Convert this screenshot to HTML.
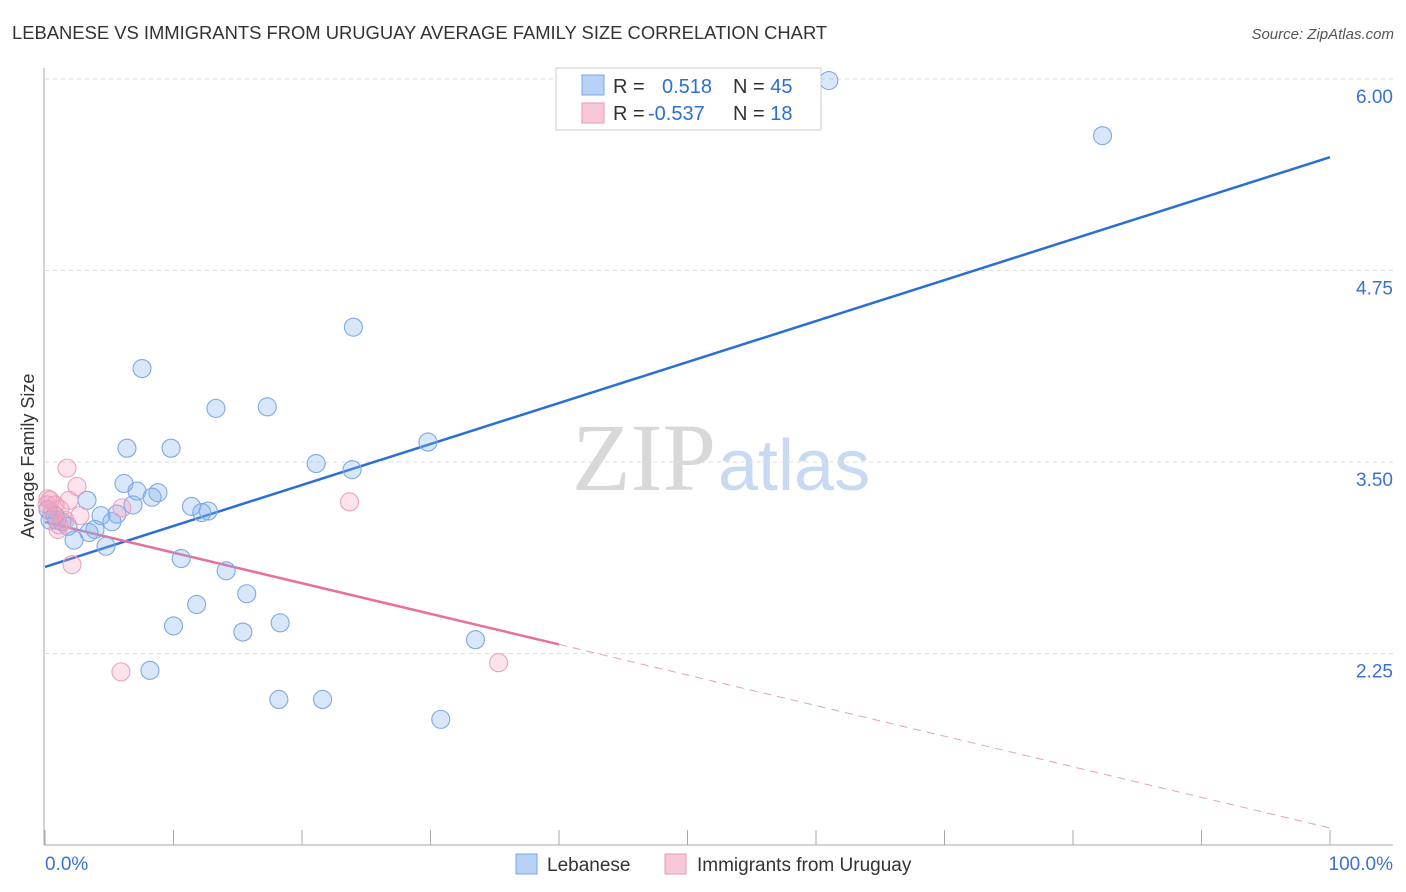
<!DOCTYPE html>
<html><head><meta charset="utf-8"><style>
body{margin:0;background:#fff;font-family:"Liberation Sans",sans-serif;}
#wrap{position:relative;width:1406px;height:892px;overflow:hidden}
</style></head><body>
<div id="wrap">
<svg id="svg" width="1406" height="892" xmlns="http://www.w3.org/2000/svg">
<text x="12" y="39" font-size="18.4" fill="#333">LEBANESE VS IMMIGRANTS FROM URUGUAY AVERAGE FAMILY SIZE CORRELATION CHART</text>
<text x="1394" y="39" font-size="15" fill="#555" font-style="italic" text-anchor="end">Source: ZipAtlas.com</text>
<text x="716" y="490" font-size="96" fill="#d8d8d8" font-family="Liberation Serif,serif" text-anchor="end">ZIP</text>
<text x="718" y="490" font-size="72" fill="#c8daf2" text-anchor="start">atlas</text>
<g id="grid"></g><g id="axes"></g><g id="lines"></g><g id="pts"></g>
<text transform="translate(34,456) rotate(-90)" font-size="18" fill="#333" text-anchor="middle">Average Family Size</text>
<g>
<rect x="556" y="68" width="265" height="62" fill="#fff" stroke="#ccc"/>
<rect x="582" y="75" width="22" height="20" fill="#b7d2f5" stroke="#7aa5e3"/>
<rect x="582" y="103" width="22" height="20" fill="#f9c8d6" stroke="#e99ab4"/>
<text x="613" y="93" font-size="20" fill="#333">R = <tspan fill="#2b6fd6" x="662">0.518</tspan><tspan fill="#333" x="733">N = </tspan><tspan fill="#2b6fd6">45</tspan></text>
<text x="613" y="120" font-size="20" fill="#333">R = <tspan fill="#2b6fd6" x="648">-0.537</tspan><tspan fill="#333" x="733">N = </tspan><tspan fill="#2b6fd6"> 18</tspan></text>
</g>
<g>
<rect x="516" y="854" width="21" height="20" fill="#b7d2f5" stroke="#7aa5e3"/>
<text x="547" y="871" font-size="19" fill="#333">Lebanese</text>
<rect x="665" y="854" width="21" height="20" fill="#f9c8d6" stroke="#e99ab4"/>
<text x="697" y="871" font-size="19" fill="#333">Immigrants from Uruguay</text>
</g>
</svg></div>
<script>
const yTicks=[6.00,4.75,3.50,2.25];
const xTickLabels=["0.0%","100.0%"];
const blueX=[61.0,82.3,24.0,7.55,13.3,17.3,6.38,9.81,29.8,21.1,23.9,6.15,7.16,8.79,8.33,6.85,11.4,12.7,12.2,3.27,5.60,4.36,5.21,0.93,1.79,3.89,3.42,2.26,4.75,10.6,14.1,15.7,11.8,10.0,15.4,18.3,33.5,8.17,18.2,21.6,30.8,0.39,1.32,0.78,0.23];
const blueY=[5.99,5.63,4.38,4.11,3.85,3.86,3.59,3.59,3.63,3.49,3.45,3.36,3.31,3.30,3.27,3.22,3.21,3.18,3.17,3.25,3.16,3.15,3.11,3.12,3.08,3.06,3.04,2.99,2.95,2.87,2.79,2.64,2.57,2.43,2.39,2.45,2.34,2.14,1.95,1.95,1.82,3.12,3.11,3.15,3.19];
const pinkX=[1.71,2.49,1.87,0.39,0.78,1.17,0.16,0.54,2.72,5.99,1.09,1.56,2.10,5.91,23.7,35.3,0.23,1.01];
const pinkY=[3.46,3.34,3.25,3.25,3.22,3.19,3.22,3.17,3.15,3.20,3.09,3.12,2.83,2.13,3.24,2.19,3.26,3.06];
const blueTrend=[2.815,5.49];
const pinkTrend=[3.108,1.111];
const pinkSolidEnd=40;
const NS="http://www.w3.org/2000/svg";
const sx=v=>45+v*12.85, sy=v=>79+(6-v)*153.2;
function mk(t,a,p){const e=document.createElementNS(NS,t);for(const k in a)e.setAttribute(k,a[k]);p.appendChild(e);return e;}
const grid=document.getElementById('grid'),axes=document.getElementById('axes'),lines=document.getElementById('lines'),pts=document.getElementById('pts');
yTicks.forEach(v=>{
 const l=mk('line',{x1:45,x2:1393,y1:sy(v),y2:sy(v),stroke:'#ddd','stroke-dasharray':'4,4'},grid);
 
 
 const t=mk('text',{x:1393,y:sy(v)+24,'font-size':19,fill:'#3a72d0','text-anchor':'end'},grid);
 t.textContent=v.toFixed(2);
 
 
});
mk('line',{x1:44,x2:44,y1:68,y2:845,stroke:'#aaa'},axes);
mk('line',{x1:44,x2:1393,y1:845,y2:845,stroke:'#aaa'},axes);
for(let i=0;i<=10;i++){const l=mk('line',{x1:sx(i*10),x2:sx(i*10),y1:830,y2:845,stroke:'#aaa'},axes);
 
 }
const t0=mk('text',{x:45,y:870,'font-size':19,fill:'#3a72d0'},axes);t0.textContent=xTickLabels[0];


const t1=mk('text',{x:1393,y:870,'font-size':19,fill:'#3a72d0','text-anchor':'end'},axes);t1.textContent=xTickLabels[1];


blueX.forEach((x,i)=>{const c=mk('circle',{cx:sx(x),cy:sy(blueY[i]),r:9,fill:'rgba(130,175,240,0.3)',stroke:'#7ea8e6','stroke-width':1.1},pts);
 
 });
pinkX.forEach((x,i)=>{const c=mk('circle',{cx:sx(x),cy:sy(pinkY[i]),r:9,fill:'rgba(245,155,185,0.28)',stroke:'#eba2bb','stroke-width':1.1},pts);
 
 });
const bl=mk('line',{x1:sx(0),y1:sy(blueTrend[0]),x2:sx(100),y2:sy(blueTrend[1]),stroke:'#2a6fd6','stroke-width':2.5},lines);


const pv=x=>pinkTrend[0]+(pinkTrend[1]-pinkTrend[0])*x/100;
const pl=mk('line',{x1:sx(0),y1:sy(pv(0)),x2:sx(pinkSolidEnd),y2:sy(pv(pinkSolidEnd)),stroke:'#e8709a','stroke-width':2.5},lines);


const pd=mk('line',{x1:sx(pinkSolidEnd),y1:sy(pv(pinkSolidEnd)),x2:sx(100),y2:sy(pv(100)),stroke:'#e8a0b8','stroke-width':1,'stroke-dasharray':'8,6'},lines);


</script>
</body></html>
